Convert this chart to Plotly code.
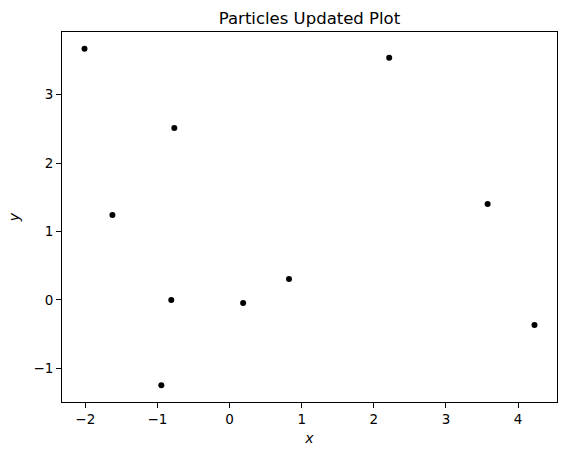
import plotly.graph_objects as go

# Particle positions
particle_x = [-2.011, -0.766, -1.624, -0.808, -0.946, 0.188, 0.824, 2.213, 3.577, 4.227]
particle_y = [3.671, 2.514, 1.240, -0.004, -1.249, -0.048, 0.303, 3.539, 1.401, -0.370]

x_ticks = [-2, -1, 0, 1, 2, 3, 4]
y_ticks = [-1, 0, 1, 2, 3]
title_text = "Particles Updated Plot"


def fmt(v):
    return ("\u2212" + str(abs(v))) if v < 0 else str(v)


def padded(vals, frac=0.05):
    lo, hi = min(vals), max(vals)
    d = (hi - lo) * frac
    return [lo - d, hi + d]


font = "DejaVu Sans"
fig = go.Figure()
fig.add_trace(go.Scatter(
    x=particle_x, y=particle_y, mode="markers",
    marker=dict(color="black", size=6, line=dict(width=0)),
    showlegend=False, hoverinfo="skip",
))

axis_common = dict(
    showgrid=False, zeroline=False, showline=True, linecolor="black", linewidth=1,
    mirror=True, ticks="outside", ticklen=5, tickwidth=1, tickcolor="black",
    tickfont=dict(family=font, size=13.5, color="black"),
)

fig.update_layout(
    width=566, height=455,
    margin=dict(l=62, r=9, t=32, b=53),
    paper_bgcolor="white", plot_bgcolor="white",
    font=dict(family=font, color="black"),
    title=dict(text=title_text, x=0.5, xref="paper", xanchor="center",
               y=1 - 18 / 455, yref="container", yanchor="middle",
               font=dict(family=font, size=16.5, color="black")),
    xaxis=dict(range=padded(particle_x), tickvals=x_ticks,
               ticktext=[fmt(v) for v in x_ticks],
               title=dict(text="<i>x</i>", standoff=6,
                          font=dict(family=font, size=14, color="black")),
               **axis_common),
    yaxis=dict(range=padded(particle_y), tickvals=y_ticks,
               ticktext=[fmt(v) for v in y_ticks],
               title=dict(text="<i>y</i>", standoff=10,
                          font=dict(family=font, size=14, color="black")),
               **axis_common),
)

fig.write_html(
    "out.html",
    config={"displayModeBar": False},
    post_script="document.body.style.margin='0';document.body.style.overflow='hidden';",
)
